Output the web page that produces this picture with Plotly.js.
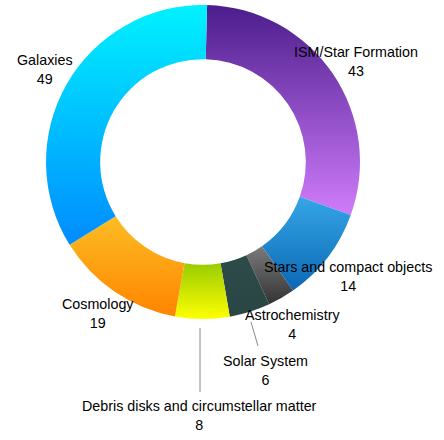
<!DOCTYPE html>
<html><head><meta charset="utf-8">
<script src="https://cdn.plot.ly/plotly-3.0.1.min.js"></script>
<style>html,body{margin:0;padding:0;background:#fff}#chart{width:444px;height:440px}</style>
</head><body><div id="chart"></div>
<script>
const categories = ["ISM/Star Formation","Stars and compact objects","Astrochemistry","Solar System","Debris disks and circumstellar matter","Cosmology","Galaxies"];
const counts = [43, 14, 4, 6, 8, 19, 49];
const gradTop = ["#4b1d8c","#35a6e6","#7a7a7a","#2d4b49","#99cc00","#fcbd24","#00f2ff"];
const gradBottom = ["#d07cfb","#0b68b5","#333333","#2a4644","#ffff00","#ff8400","#008cff"];
const solid = ["#8a45c4","#1f87cf","#555555","#2c4947","#d4e600","#fda018","#00c4ff"];

// label placement (pixels in 444x440 frame)
const labelX = [356, 348, 292.5, 265, 199, 98, 45];
const labelY = [61.5, 276.5, 324, 370, 415, 313, 70];

const W = 444, H = 440;
const annotations = categories.map((c, i) => ({
  text: c + '<br>' + counts[i],
  x: labelX[i] / W, y: 1 - labelY[i] / H,
  xref: 'paper', yref: 'paper', xanchor: 'center', yanchor: 'middle',
  showarrow: false, font: {family: 'Liberation Sans, Arial, sans-serif', size: 14.3, color: '#000'}
}));

const shapes = [
  {type:'line', xref:'paper', yref:'paper', x0:251/W, y0:1-322/H, x1:258/W, y1:1-346/H, line:{color:'#888', width:1}},
  {type:'line', xref:'paper', yref:'paper', x0:200/W, y0:1-328/H, x1:200/W, y1:1-392/H, line:{color:'#888', width:1}}
];

const data = [{
  type: 'pie',
  labels: categories,
  values: counts,
  hole: 0.655,
  sort: false,
  direction: 'clockwise',
  rotation: 1.5,
  textinfo: 'none',
  hoverinfo: 'label+value',
  marker: {colors: solid, line: {width: 0}},
  domain: {x: [46/W, 360/W], y: [1-319/H, 1-5/H]},
  showlegend: false
}];

const layout = {
  width: W, height: H,
  margin: {l:0, r:0, t:0, b:0},
  paper_bgcolor: '#fff', plot_bgcolor: '#fff',
  showlegend: false,
  annotations: annotations,
  shapes: shapes
};

Plotly.newPlot('chart', data, layout, {staticPlot: true}).then(gd => {
  const svg = gd.querySelector('svg.main-svg');
  const ns = 'http://www.w3.org/2000/svg';
  let defs = svg.querySelector('defs');
  if (!defs) { defs = document.createElementNS(ns, 'defs'); svg.insertBefore(defs, svg.firstChild); }
  categories.forEach((c, i) => {
    const lg = document.createElementNS(ns, 'linearGradient');
    lg.setAttribute('id', 'sliceGrad' + i);
    lg.setAttribute('x1', '0'); lg.setAttribute('y1', '0');
    lg.setAttribute('x2', '0'); lg.setAttribute('y2', '1');
    const s1 = document.createElementNS(ns, 'stop');
    s1.setAttribute('offset', '0'); s1.setAttribute('stop-color', gradTop[i]);
    const s2 = document.createElementNS(ns, 'stop');
    s2.setAttribute('offset', '1'); s2.setAttribute('stop-color', gradBottom[i]);
    lg.appendChild(s1); lg.appendChild(s2);
    defs.appendChild(lg);
  });
  const slices = gd.querySelectorAll('g.slice');
  slices.forEach((g, k) => {
    const d = g.__data__;
    const idx = (d && typeof d.i === 'number') ? d.i : k;
    const p = g.querySelector('path.surface');
    if (p) p.style.fill = 'url(#sliceGrad' + idx + ')';
  });
});
</script>
</body></html>
